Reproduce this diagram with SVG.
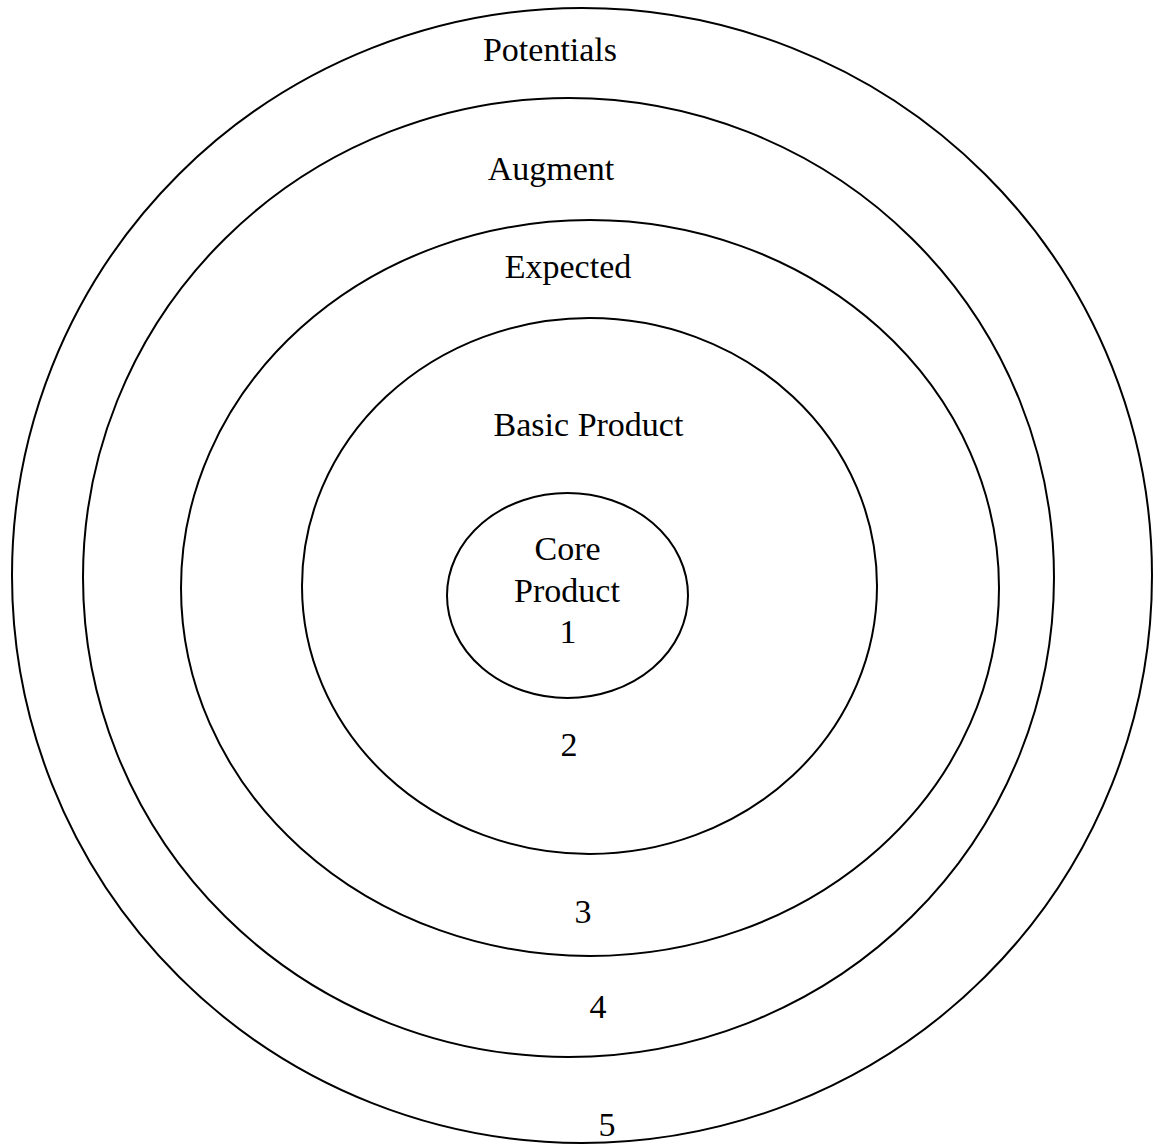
<svg xmlns="http://www.w3.org/2000/svg" width="1155" height="1144" viewBox="0 0 1155 1144">
<style>
.ring{fill:none;stroke:#000;stroke-width:2}
.t{font-family:"Liberation Serif","Times New Roman",serif;font-size:34px;fill:#000;text-anchor:middle}
</style>
<rect width="1155" height="1144" fill="#fff"/>
<g id="potentials">
<ellipse class="ring" cx="582" cy="575.5" rx="570" ry="567.5"/>
<text class="t" x="550" y="61">Potentials</text>
<text class="t" x="607" y="1136">5</text>
</g>
<g id="augment">
<ellipse class="ring" cx="568.5" cy="577.5" rx="485.5" ry="479.5"/>
<text class="t" x="551" y="180">Augment</text>
<text class="t" x="598" y="1018">4</text>
</g>
<g id="expected">
<ellipse class="ring" cx="590" cy="588" rx="409" ry="368"/>
<text class="t" x="568" y="278">Expected</text>
<text class="t" x="583" y="923">3</text>
</g>
<g id="basic">
<ellipse class="ring" cx="589.5" cy="586" rx="287.5" ry="268"/>
<text class="t" x="588.5" y="436">Basic Product</text>
<text class="t" x="569" y="756">2</text>
</g>
<g id="core">
<ellipse class="ring" cx="567.5" cy="595.5" rx="120.5" ry="102.5"/>
<text class="t" x="567.5" y="560">Core</text>
<text class="t" x="567" y="602">Product</text>
<text class="t" x="568" y="643">1</text>
</g>
<g id="connectors"/>
</svg>
